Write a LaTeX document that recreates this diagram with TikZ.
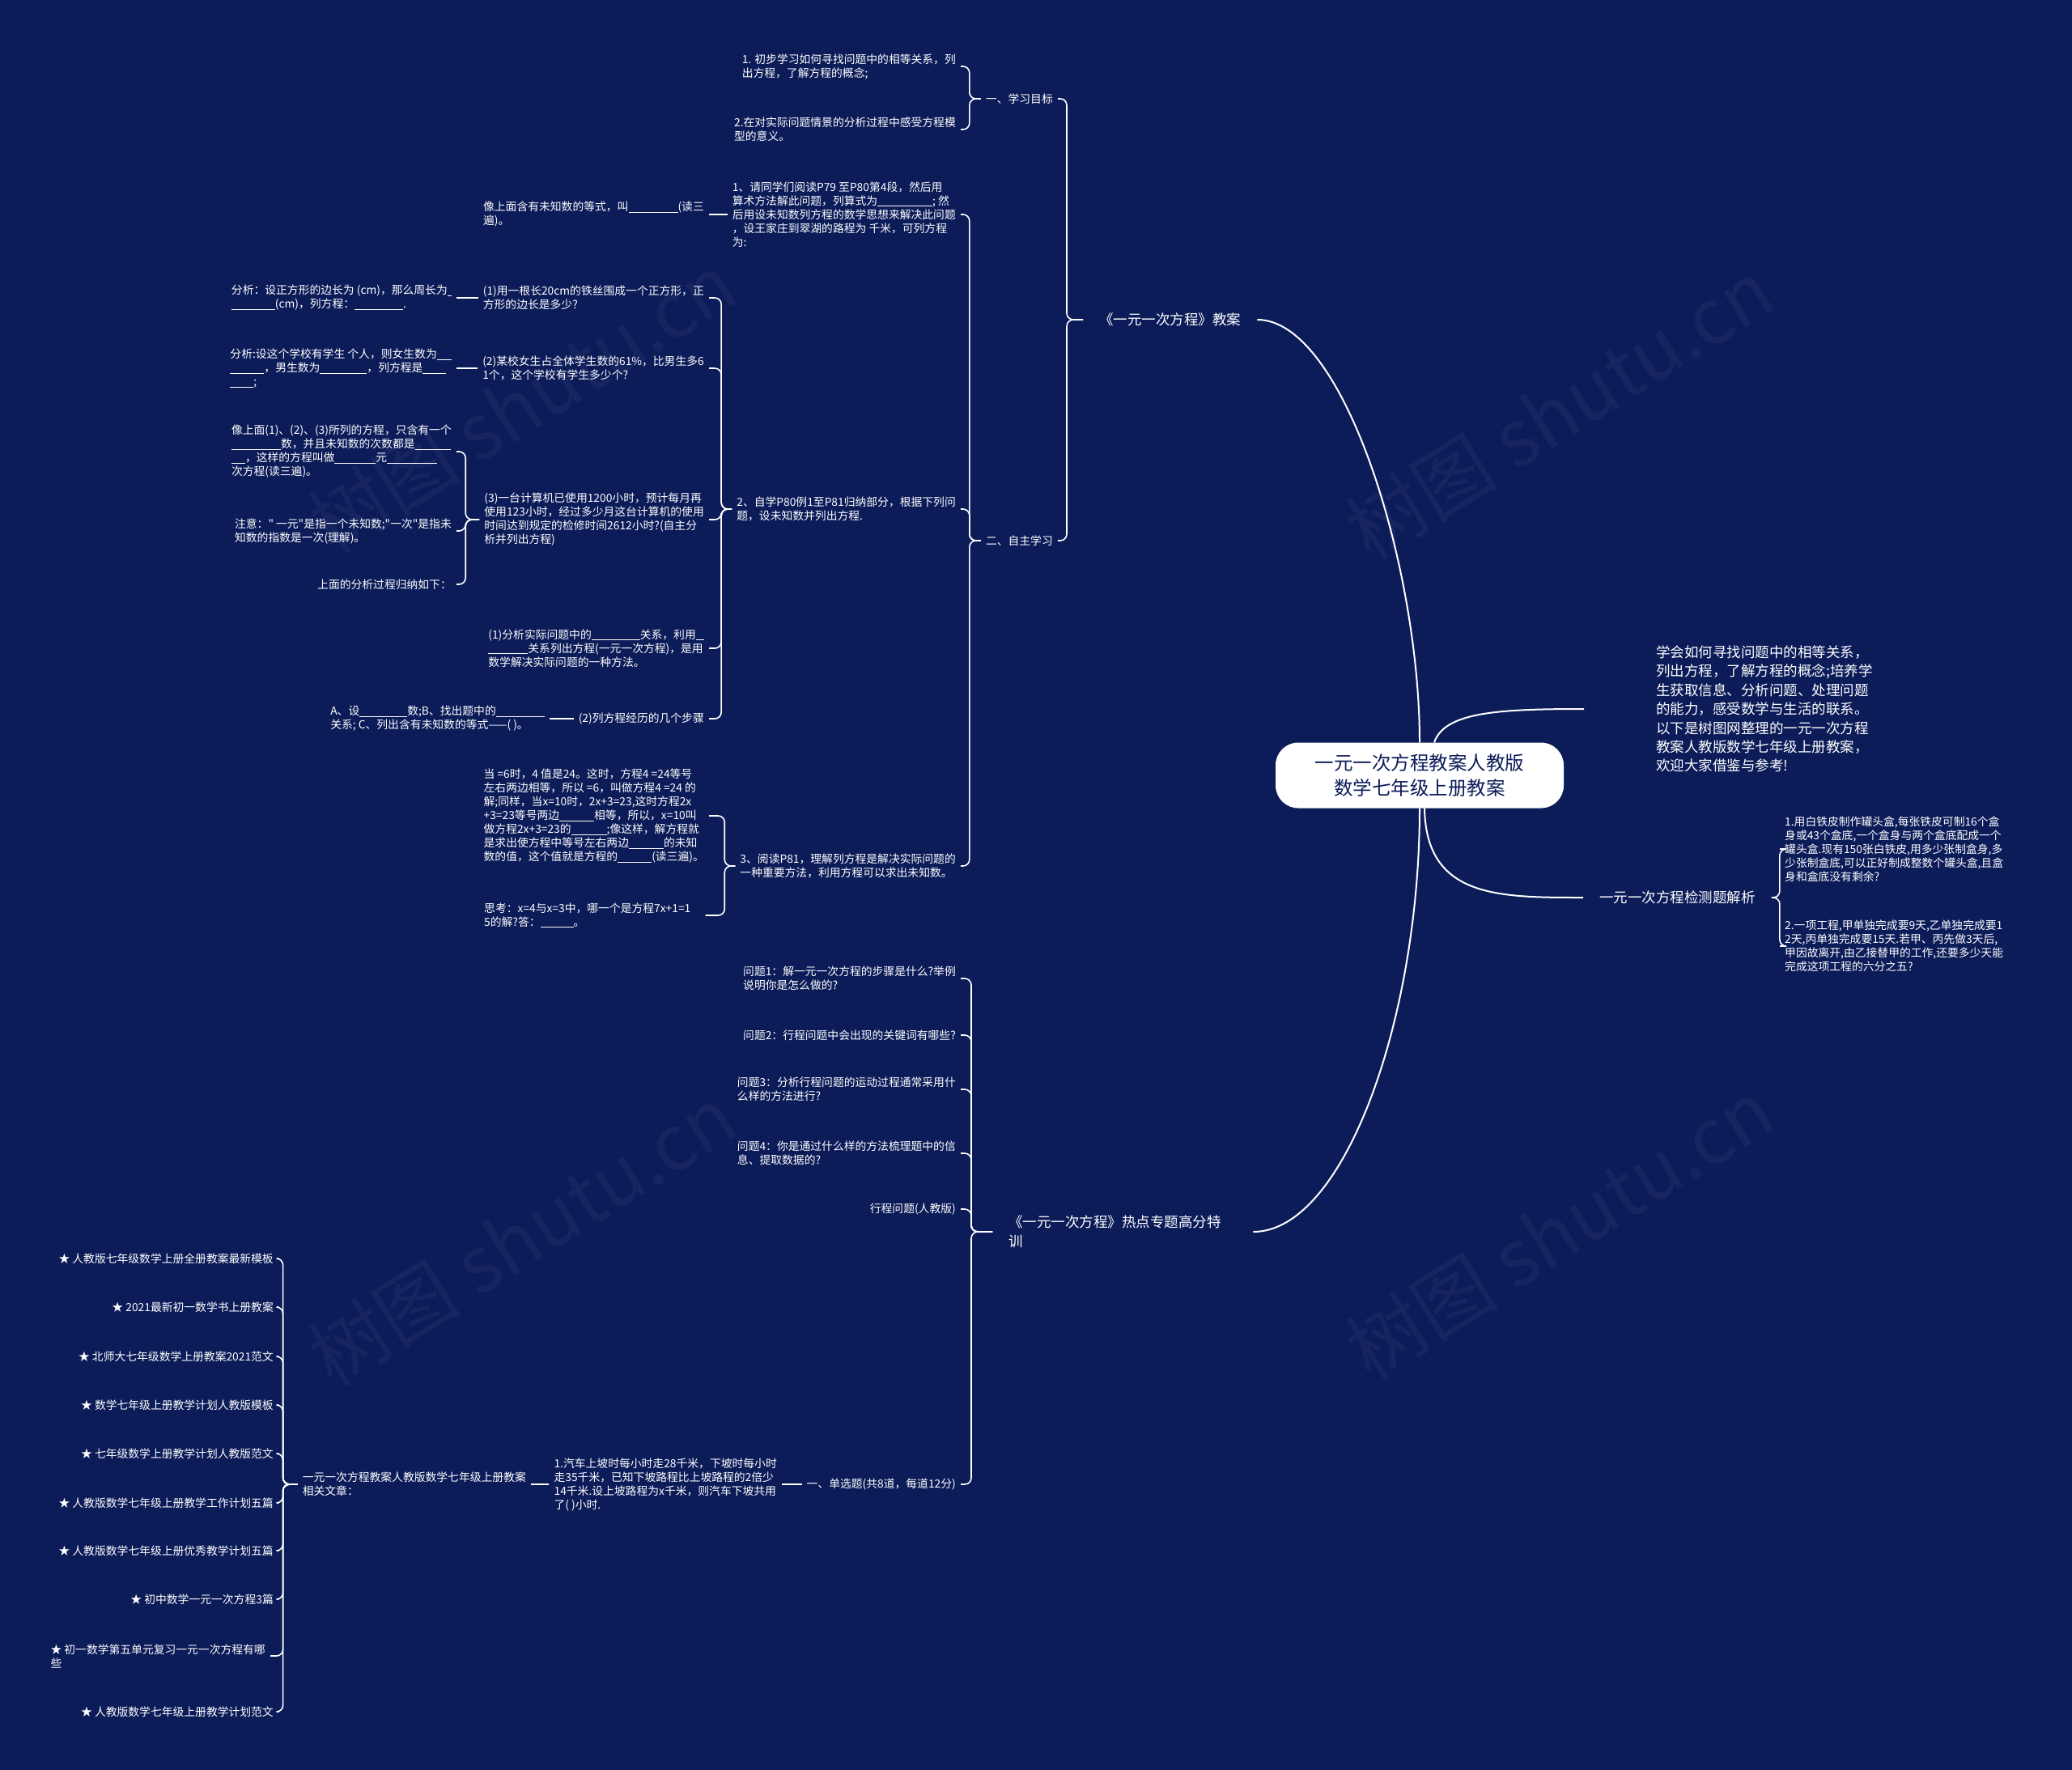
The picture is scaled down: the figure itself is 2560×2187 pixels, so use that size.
\documentclass[tikz,border=0pt]{standalone}
\usepackage{fontspec}
\setmainfont{Noto Sans CJK SC}
\newfontfamily\qfont{Noto Sans CJK SC}
\definecolor{bgnavy}{RGB}{12,28,89}
\newcommand{\blk}[1]{\rule[-2pt]{#1}{0.9pt}}
\newcommand{\dq}{{\qfont"}}
\tikzset{
  leaf/.style={text=white, font=\fontsize{13.8}{17}\selectfont, align=left, inner xsep=6pt, inner ysep=0pt},
  lbl/.style={text=white, font=\fontsize{17.5}{24.5}\selectfont, align=left, inner xsep=20pt, inner ysep=0pt},
  link/.style={draw=white, line width=1.6pt, rounded corners=8pt},
  trunk/.style={draw=white, line width=2pt},
}
\begin{document}
\begin{tikzpicture}[x=1pt, y=-1pt]
  \fill[bgnavy] (0,0) rectangle (2560,2187);
  \useasboundingbox (0,0) rectangle (2560,2187);
  \foreach \wx/\wy in {645/498, 1927/506, 645/1527, 1927/1519}
    \node[rotate=32, text=white, opacity=0.045, font=\fontsize{95}{95}\selectfont] at (\wx,\wy) {树图 shutu.cn};

  \node[fill=white, rounded corners=28pt, minimum width=356pt, minimum height=81pt, text=bgnavy,
    align=center, font=\fontsize{23.5}{31}\selectfont] (root) at (1754,958)
    {一元一次方程教案人教版\\数学七年级上册教案};

  \node[lbl, anchor=west] (plan) at (1338,395) {《一元一次方程》教案};
  \node[lbl, anchor=west, text width=282pt] (drill) at (1226,1522) {《一元一次方程》热点专题高分特\\训};
  \node[lbl, anchor=west] (check) at (1956,1109) {一元一次方程检测题解析};
  \node[lbl, anchor=west, inner xsep=0pt, font=\fontsize{17.5}{23.4}\selectfont] (intro) at (2046,876)
    {学会如何寻找问题中的相等关系，\\列出方程，了解方程的概念;培养学\\生获取信息、分析问题、处理问题\\的能力，感受数学与生活的联系。\\以下是树图网整理的一元一次方程\\教案人教版数学七年级上册教案，\\欢迎大家借鉴与参考!};

  \draw[trunk] (root.north) .. controls (1754,700) and (1660,395) .. (plan.east);
  \draw[trunk] (root.south) .. controls (1754,1260) and (1660,1522) .. (drill.east);
  \draw[trunk] ([xshift=18pt]root.north) .. controls (1785,880) and (1850,876) .. ([xshift=-89pt]intro.west);
  \draw[trunk] ([xshift=6pt]root.south) .. controls (1762,1109) and (1850,1109) .. (check.west);

  \node[leaf, anchor=east] (goal) at (1307,122) {一、学习目标};
  \node[leaf, anchor=east] (self) at (1307,668) {二、自主学习};
  \foreach \c in {goal,self} \draw[link] (plan.west) -- ++(-20,0) |- (\c.east);

  \node[leaf, anchor=east] (aim1) at (1187,82) {1. 初步学习如何寻找问题中的相等关系，列\\出方程，了解方程的概念;};
  \node[leaf, anchor=east] (aim2) at (1187,160) {2.在对实际问题情景的分析过程中感受方程模\\型的意义。};
  \foreach \c in {aim1,aim2} \draw[link] (goal.west) -- ++(-14,0) |- (\c.east);

  \node[leaf, anchor=east] (read) at (1187,265) {1、请同学们阅读P79 至P80第4段，然后用\\算术方法解此问题，列算式为\blk{68pt}; 然\\后用设未知数列方程的数学思想来解决此问题\\，设王家庄到翠湖的路程为 千米，可列方程\\为:};
  \node[leaf, anchor=east] (learn) at (1187,629) {2、自学P80例1至P81归纳部分，根据下列问\\题，设未知数并列出方程.};
  \node[leaf, anchor=east] (solve) at (1187,1070) {3、阅读P81，理解列方程是解决实际问题的\\一种重要方法，利用方程可以求出未知数。};
  \foreach \c in {read,learn,solve} \draw[link] (self.west) -- ++(-14,0) |- (\c.east);

  \node[leaf, anchor=east] (eqdef) at (876,265) {像上面含有未知数的等式，叫\blk{61pt}(读三\\遍)。};
  \draw[link] (read.west) -- (eqdef.east);

  \node[leaf, anchor=east] (wire) at (876,368) {(1)用一根长20cm的铁丝围成一个正方形，正\\方形的边长是多少?};
  \node[leaf, anchor=east] (school) at (876,455) {(2)某校女生占全体学生数的61\%，比男生多6\\1个，这个学校有学生多少个?};
  \node[leaf, anchor=east] (computer) at (876,642) {(3)一台计算机已使用1200小时，预计每月再\\使用123小时，经过多少月这台计算机的使用\\时间达到规定的检修时间2612小时?(自主分\\析并列出方程)};
  \node[leaf, anchor=east] (analyse) at (876,801) {(1)分析实际问题中的\blk{60pt}关系，利用\blk{10pt}\\\blk{49pt}关系列出方程(一元一次方程)，是用\\数学解决实际问题的一种方法。};
  \node[leaf, anchor=east] (steps) at (876,888) {(2)列方程经历的几个步骤};
  \foreach \c in {wire,school,computer,analyse,steps} \draw[link] (learn.west) -- ++(-13,0) |- (\c.east);

  \node[leaf, anchor=east] (sol) at (876,1008) {当 =6时，4 值是24。这时，方程4 =24等号\\左右两边相等，所以 =6，叫做方程4 =24 的\\解;同样，当x=10时，2x+3=23,这时方程2x\\+3=23等号两边\blk{43pt}相等，所以，x=10叫\\做方程2x+3=23的\blk{44pt};像这样，解方程就\\是求出使方程中等号左右两边\blk{43pt}的未知\\数的值，这个值就是方程的\blk{42pt}(读三遍)。};
  \node[leaf, anchor=west] (think) at (592,1131) {思考：x=4与x=3中，哪一个是方程7x+1=1\\5的解?答：\blk{41pt}。};
  \draw[link] (solve.west) -- ++(-13,0) |- (sol.east);
  \draw[link] (solve.west) -- ++(-13,0) |- ([xshift=12pt]think.east);

  \node[leaf, anchor=east] (wirehint) at (564,368) {分析：设正方形的边长为 (cm)，那么周长为\blk{5pt}\\\blk{54pt}(cm)，列方程：\blk{60pt}.};
  \draw[link] (wire.west) -- (wirehint.east);
  \node[leaf, anchor=east] (schoolhint) at (564,455) {分析:设这个学校有学生 个人，则女生数为\blk{18pt}\\\blk{42pt}，男生数为\blk{58pt}，列方程是\blk{29pt}\\\blk{29pt};};
  \draw[link] (school.west) -- (schoolhint.east);

  \node[leaf, anchor=east] (linear) at (564,558) {像上面(1)、(2)、(3)所列的方程，只含有一个\\\blk{61pt}数，并且未知数的次数都是\blk{44pt}\\\blk{17pt}，这样的方程叫做\blk{51pt}元\blk{62pt}\\次方程(读三遍)。};
  \node[leaf, anchor=east] (note) at (564,656) {注意：\dq\ 一元\dq 是指一个未知数;\dq 一次\dq 是指未\\知数的指数是一次(理解)。};
  \node[leaf, anchor=east] (sumup) at (564,722) {上面的分析过程归纳如下：};
  \foreach \c in {linear,note,sumup} \draw[link] (computer.west) -- ++(-17,0) |- (\c.east);

  \node[leaf, anchor=east] (stepabc) at (679,888) {A、设\blk{59pt}数;B、找出题中的\blk{60pt}\\关系; C、列出含有未知数的等式——( )。};
  \draw[link] (steps.west) -- (stepabc.east);

  \node[leaf, anchor=east] (q1) at (1187,1209) {问题1：解一元一次方程的步骤是什么?举例\\说明你是怎么做的?};
  \node[leaf, anchor=east] (q2) at (1187,1279) {问题2：行程问题中会出现的关键词有哪些?};
  \node[leaf, anchor=east] (q3) at (1187,1346) {问题3：分析行程问题的运动过程通常采用什\\么样的方法进行?};
  \node[leaf, anchor=east] (q4) at (1187,1425) {问题4：你是通过什么样的方法梳理题中的信\\息、提取数据的?};
  \node[leaf, anchor=east] (travel) at (1187,1494) {行程问题(人教版)};
  \node[leaf, anchor=east] (single) at (1187,1834) {一、单选题(共8道，每道12分)};
  \foreach \c in {q1,q2,q3,q4,travel,single} \draw[link] (drill.west) -- ++(-26,0) |- (\c.east);

  \node[leaf, anchor=east] (car) at (966,1834) {1.汽车上坡时每小时走28千米，下坡时每小时\\走35千米，已知下坡路程比上坡路程的2倍少\\14千米.设上坡路程为x千米，则汽车下坡共用\\了( )小时.};
  \draw[link] (single.west) -- (car.east);
  \node[leaf, anchor=east] (related) at (656,1834) {一元一次方程教案人教版数学七年级上册教案\\相关文章：};
  \draw[link] (car.west) -- (related.east);

  \foreach \i/\x/\y/\t in {1/344/1555/人教版七年级数学上册全册教案最新模板, 2/344/1615/2021最新初一数学书上册教案,
      3/344/1676/北师大七年级数学上册教案2021范文, 4/344/1736/数学七年级上册教学计划人教版模板,
      5/344/1796/七年级数学上册教学计划人教版范文, 6/344/1857/人教版数学七年级上册教学工作计划五篇,
      7/344/1916/人教版数学七年级上册优秀教学计划五篇, 8/344/1976/初中数学一元一次方程3篇,
      9/334/2046/{初一数学第五单元复习一元一次方程有哪\\些}, 10/344/2115/人教版数学七年级上册教学计划范文}
    \node[leaf, anchor=east] (art\i) at (\x,\y) {★ \t};
  \foreach \i in {1,...,10} \draw[link] (related.west) -- ++(-18,0) |- (art\i.east);

  \node[leaf, anchor=west] (tin) at (2199,1049) {1.用白铁皮制作罐头盒,每张铁皮可制16个盒\\身或43个盒底,一个盒身与两个盒底配成一个\\罐头盒.现有150张白铁皮,用多少张制盒身,多\\少张制盒底,可以正好制成整数个罐头盒,且盒\\身和盒底没有剩余?};
  \node[leaf, anchor=west] (work) at (2199,1169) {2.一项工程,甲单独完成要9天,乙单独完成要1\\2天,丙单独完成要15天.若甲、丙先做3天后,\\甲因故离开,由乙接替甲的工作,还要多少天能\\完成这项工程的六分之五?};
  \foreach \c in {tin,work} \draw[link] (check.east) -- ++(10,0) |- (\c.west);
\end{tikzpicture}
\end{document}
